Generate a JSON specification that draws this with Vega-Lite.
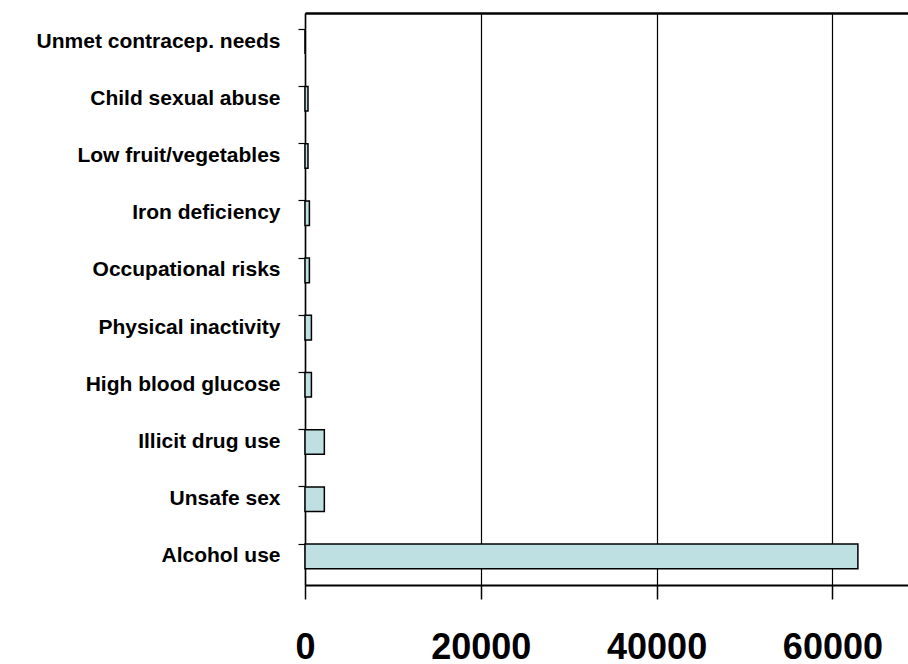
{
  "$schema": "https://vega.github.io/schema/vega-lite/v6.json",
  "autosize": {"type": "none"},
  "padding": {"left": 305, "top": 13, "right": 0, "bottom": 79},
  "width": 603,
  "height": 572,
  "background": "white",
  "config": {
    "view": {"stroke": null},
    "font": "Liberation Sans"
  },
  "data": {
    "values": [
      {"factor": "Unmet contracep. needs", "value": 0},
      {"factor": "Child sexual abuse", "value": 340},
      {"factor": "Low fruit/vegetables", "value": 340},
      {"factor": "Iron deficiency", "value": 500},
      {"factor": "Occupational risks", "value": 500},
      {"factor": "Physical inactivity", "value": 730},
      {"factor": "High blood glucose", "value": 730},
      {"factor": "Illicit drug use", "value": 2200},
      {"factor": "Unsafe sex", "value": 2200},
      {"factor": "Alcohol use", "value": 62900}
    ]
  },
  "layer": [
    {
      "mark": {"type": "bar", "fill": "#BEE0E3", "stroke": "black", "strokeWidth": 1.5},
      "encoding": {
        "y": {
          "field": "factor",
          "type": "nominal",
          "sort": null,
          "scale": {"paddingInner": 0.57, "paddingOuter": 0.285},
          "axis": {
            "title": null,
            "orient": "left",
            "bandPosition": 0,
            "domainColor": "black",
            "domainWidth": 1.5,
            "tickColor": "black",
            "tickWidth": 1.2,
            "tickSize": 7,
            "labelPadding": 18,
            "labelFont": "Liberation Sans",
            "labelFontSize": 21,
            "labelFontWeight": "bold",
            "labelColor": "black",
            "labelLimit": 400
          }
        },
        "x": {
          "field": "value",
          "type": "quantitative",
          "scale": {"domain": [0, 68600], "nice": false, "zero": true},
          "axis": {
            "title": null,
            "orient": "bottom",
            "values": [0, 20000, 40000, 60000],
            "format": "d",
            "grid": true,
            "gridColor": "black",
            "gridWidth": 1.2,
            "gridOpacity": 1,
            "domainColor": "black",
            "domainWidth": 2,
            "tickColor": "black",
            "tickWidth": 1.5,
            "tickSize": 14,
            "labelPadding": 31,
            "labelFont": "Liberation Sans",
            "labelFontSize": 36,
            "labelFontWeight": "bold",
            "labelColor": "black",
            "labelFlush": false,
            "labelOverlap": false
          }
        }
      }
    },
    {
      "mark": {"type": "bar", "opacity": 0},
      "encoding": {
        "x": {
          "field": "value",
          "type": "quantitative",
          "axis": {
            "orient": "top",
            "title": null,
            "labels": false,
            "ticks": false,
            "grid": false,
            "domainColor": "black",
            "domainWidth": 2.5
          }
        }
      }
    }
  ],
  "resolve": {"axis": {"x": "independent"}}
}
